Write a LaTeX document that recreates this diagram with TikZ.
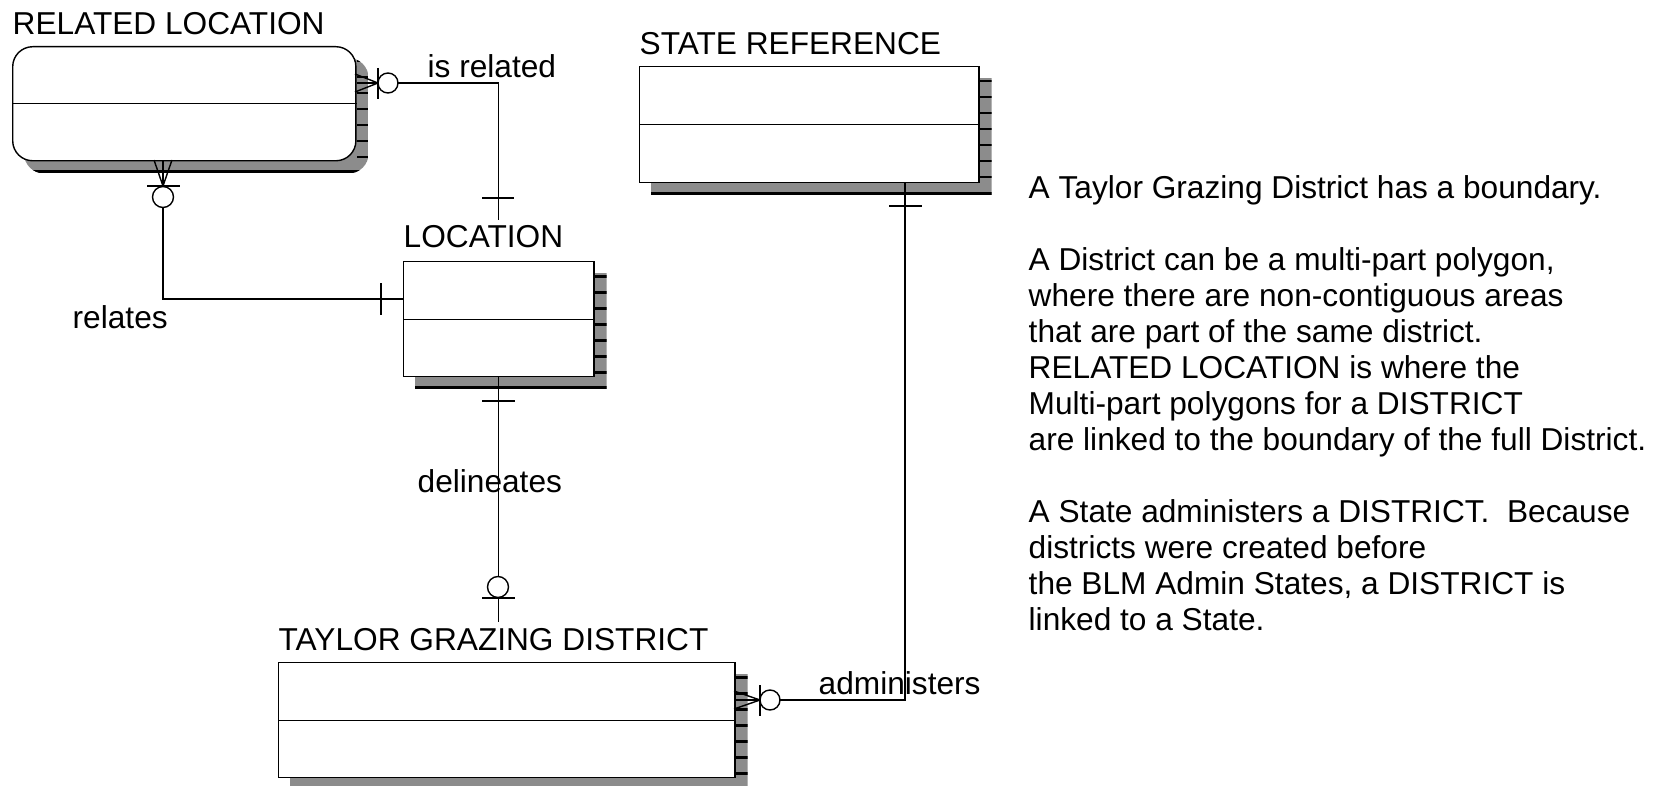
\documentclass[tikz,border=0pt]{standalone}
\usepackage{fontspec}
\setmainfont{Liberation Sans}
\usetikzlibrary{calc,backgrounds}

\begin{document}
\begin{tikzpicture}[
  x=0.01cm, y=-0.01cm,
  font=\fontsize{9}{10.24}\selectfont,
  entity/.style={draw,fill=white,line width=0.4pt,inner sep=0pt,anchor=north west},
  ename/.style={anchor=base west,inner sep=0pt},
  rel/.style={line width=0.4pt},
  opt/.style={draw,fill=white,line width=0.4pt},
  eshade/.style={fill=gray!90}
]
\useasboundingbox (0,0) rectangle (1658,785);

% -------------------------
% Entities
% -------------------------
\node[entity,rounded corners=0.2cm,minimum width=3.43cm,minimum height=1.14cm] (relloc) at (12,46) {};
\node[entity,minimum width=1.90cm,minimum height=1.15cm] (loc) at (403,261) {};
\node[entity,minimum width=3.39cm,minimum height=1.16cm] (stateref) at (639,66) {};
\node[entity,minimum width=4.56cm,minimum height=1.15cm] (tgd) at (278,662) {};

\foreach \n in {relloc,loc,stateref,tgd}
  \draw[rel] (\n.west) -- (\n.east);

\node[ename] (relloc-t) at ([yshift=0.11cm]relloc.north west) {RELATED LOCATION};
\node[ename] (loc-t) at ([yshift=0.13cm]loc.north west) {LOCATION};
\node[ename] (stateref-t) at ([yshift=0.11cm]stateref.north west) {STATE REFERENCE};
\node[ename] (tgd-t) at ([yshift=0.12cm]tgd.north west) {TAYLOR GRAZING DISTRICT};

% -------------------------
% Shadows
% -------------------------
\begin{scope}[on background layer]
\foreach \n/\r in {relloc/0.2cm,loc/0pt,stateref/0pt,tgd/0pt} {
  \begin{scope}
    \clip[rounded corners=\r] ($(\n.north west)+(12,12)$) rectangle ($(\n.south east)+(12,12)$);
    \fill[eshade] ($(\n.north west)+(12,12)$) rectangle ($(\n.south east)+(12,12)$);
    \foreach \k in {0,...,6}
      \fill ($(\n.north east)+(0,14+16*\k)$) rectangle ++(12,2.5);
    \fill ($(\n.south west)+(12,9)$) rectangle ($(\n.south east)+(12,12)$);
  \end{scope}
}
\end{scope}

% -------------------------
% Relationships
% -------------------------

% is related
\draw[rel] (relloc.east |- 0,83) -| ([yshift=0.05cm]loc-t.north -| loc.north);
\draw[rel] (355,74) -- (378,83) -- (355,92);
\draw[rel] (378,68) -- (378,99);
\draw[opt] (388,83) circle[radius=10];
\draw[rel] (482,198) -- (514,198);
\node[ename] (isrel) at (427,78) {is related};

% relates
\draw[rel] (relloc.south -| 163,0) |- (loc.west |- 0,299);
\draw[rel] (154,160) -- (163,186) -- (172,160);
\draw[rel] (147,186) -- (180,186);
\draw[opt] (163,197) circle[radius=10.5];
\draw[rel] (381,283) -- (381,315);
\node[ename] (relates) at (72,328) {relates};

% delineates
\draw[rel] (loc.south) -- ([yshift=0.05cm]loc.south |- tgd-t.north);
\draw[rel] (482,401) -- (515,401);
\draw[opt] (498,587) circle[radius=10.5];
\draw[rel] (482,598) -- (515,598);
\node[ename] (delin) at (417,492) {delineates};

% administers
\draw[rel] (tgd.east |- 0,700) -| (stateref.south -| 905,0);
\draw[rel] (734,691) -- (760,700) -- (734,709);
\draw[rel] (760,685) -- (760,716);
\draw[opt] (770,700) circle[radius=10];
\draw[rel] (889,206) -- (922,206);
\node[ename] (admin) at (818,694) {administers};

% -------------------------
% Note
% -------------------------
\node[anchor=north west,inner sep=0pt,align=left] (note) at (1028,175) {A Taylor Grazing District has a boundary.\\[10.24pt]
A District can be a multi-part polygon,\\
where there are non-contiguous areas\\
that are part of the same district.\\
RELATED LOCATION is where the\\
Multi-part polygons for a DISTRICT\\
are linked to the boundary of the full District.\\[10.24pt]
A State administers a DISTRICT.~~Because\\
districts were created before\\
the BLM Admin States, a DISTRICT is\\
linked to a State.};

\end{tikzpicture}
\end{document}
